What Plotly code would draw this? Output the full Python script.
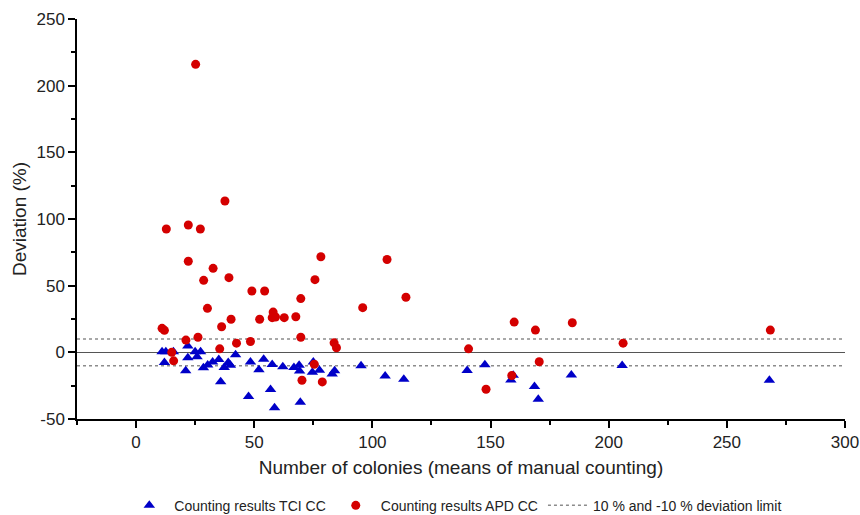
import plotly.graph_objects as go

# Counting results TCI CC (blue triangles)
tci_x = [11.0, 12.6, 15.8, 12.0, 21.9, 21.0, 21.9, 25.0, 27.3, 25.8, 28.5, 30.3, 32.4, 35.0,
         35.8, 37.3, 39.0, 39.9, 42.1, 47.6, 48.4, 52.0, 54.0, 56.9, 57.6, 58.6, 62.1, 66.8,
         69.0, 69.2, 69.5, 74.6, 75.0, 77.6, 83.0, 84.0, 95.2, 105.4, 113.3, 140.1, 147.6,
         159.6, 158.6, 168.6, 170.2, 184.2, 205.7, 268.0]
tci_y = [0.5, 0.5, 0.5, -7.6, 4.8, -13.9, -4.0, 0.5, 0.5, -3.3, -11.5, -9.5, -7.3, -5.3,
         -22.0, -11.4, -7.7, -9.6, -1.9, -33.2, -7.2, -13.0, -5.2, -27.8, -9.1, -41.6, -10.9, -11.4,
         -9.6, -14.0, -37.5, -15.0, -7.3, -13.4, -16.2, -13.9, -10.0, -17.7, -20.2, -13.7, -9.4,
         -17.2, -20.8, -25.6, -35.2, -17.0, -9.9, -21.0]

# Counting results APD CC (red circles)
apd_x = [25.2, 37.6, 12.8, 22.1, 27.2, 22.1, 32.6, 28.6, 39.3, 30.2, 49.0, 54.4, 40.2, 36.2,
         52.3, 58.0, 57.6, 59.0, 62.7, 67.6, 69.7, 75.7, 78.2, 106.2, 114.2, 95.9, 11.0, 12.0,
         21.1, 26.2, 15.1, 15.9, 35.4, 42.5, 48.4, 69.7, 83.8, 84.8, 75.4, 70.2, 78.8, 160.0,
         169.0, 184.6, 268.4, 206.1, 140.7, 170.6, 159.0, 148.1]
apd_y = [216.0, 113.5, 92.5, 95.5, 92.5, 68.3, 63.0, 54.0, 56.0, 33.0, 46.0, 46.0, 24.8, 19.2,
         24.8, 30.2, 26.0, 26.5, 26.0, 26.7, 40.3, 54.5, 71.7, 69.6, 41.3, 33.5, 18.0, 16.5,
         9.2, 11.3, 0.0, -6.4, 2.6, 6.9, 8.1, 11.3, 7.1, 3.4, -8.9, -20.9, -22.2, 22.7,
         16.7, 22.2, 16.7, 6.9, 2.6, -7.1, -17.4, -27.7]

limit_x = [-25, 300, None, -25, 300]
limit_y = [10, 10, None, -10, -10]

x_ticks = [0, 50, 100, 150, 200, 250, 300]
x_labels = ["0", "50", "100", "150", "200", "250", "300"]
y_ticks = [-50, 0, 50, 100, 150, 200, 250]
y_labels = ["-50", "0", "50", "100", "150", "200", "250"]

FONT = "Arial, Liberation Sans, sans-serif"

fig = go.Figure()
fig.add_trace(go.Scatter(
    x=limit_x, y=limit_y, mode="lines", name="10 % and -10 % deviation limit",
    line=dict(color="#8c8c8c", width=1.5, dash="dot"), showlegend=False))
fig.add_trace(go.Scatter(
    x=tci_x, y=tci_y, mode="markers", name="Counting results TCI CC",
    marker=dict(symbol="triangle-up", size=10, color="#0000c8")))
fig.add_trace(go.Scatter(
    x=apd_x, y=apd_y, mode="markers", name="Counting results APD CC",
    marker=dict(symbol="circle", size=9, color="#d40000")))
# legend entry for the limit lines
fig.add_trace(go.Scatter(
    x=[None], y=[None], mode="lines", name="10 % and -10 % deviation limit",
    line=dict(color="#8c8c8c", width=1.5, dash="dot")))

fig.update_layout(
    width=860, height=515,
    margin=dict(l=77, r=15, t=19, b=96, autoexpand=False),
    paper_bgcolor="white", plot_bgcolor="white",
    font=dict(family=FONT, color="#222222", size=16),
    legend=dict(orientation="h", x=0.53, xanchor="center", xref="container",
                y=0.018, yanchor="middle", yref="container",
                font=dict(size=14, family=FONT), itemwidth=40),
)
fig.update_xaxes(
    range=[-25, 300], tickvals=x_ticks, ticktext=x_labels, showgrid=False, zeroline=False,
    automargin=False,
    showline=True, linecolor="black", linewidth=1.5,
    ticks="outside", ticklen=7, tickwidth=1.5, tickcolor="black",
    minor=dict(dtick=25, tick0=0, ticks="outside", ticklen=4, tickwidth=1.5, tickcolor="black"),
    tickfont=dict(size=17),
    title=dict(text="Number of colonies (means of manual counting)", font=dict(size=19), standoff=10),
)
fig.update_yaxes(
    range=[-50, 250], tickvals=y_ticks, ticktext=y_labels, showgrid=False,
    automargin=False,
    zeroline=True, zerolinecolor="#555555", zerolinewidth=1.2,
    showline=True, linecolor="black", linewidth=1.5,
    ticks="outside", ticklen=7, tickwidth=1.5, tickcolor="black",
    minor=dict(dtick=25, tick0=0, ticks="outside", ticklen=4, tickwidth=1.5, tickcolor="black"),
    tickfont=dict(size=17),
    title=dict(text="Deviation (%)", font=dict(size=19), standoff=5),
)

fig.write_html("out.html", config={"displayModeBar": False},
               post_script="document.body.style.margin='0';")
